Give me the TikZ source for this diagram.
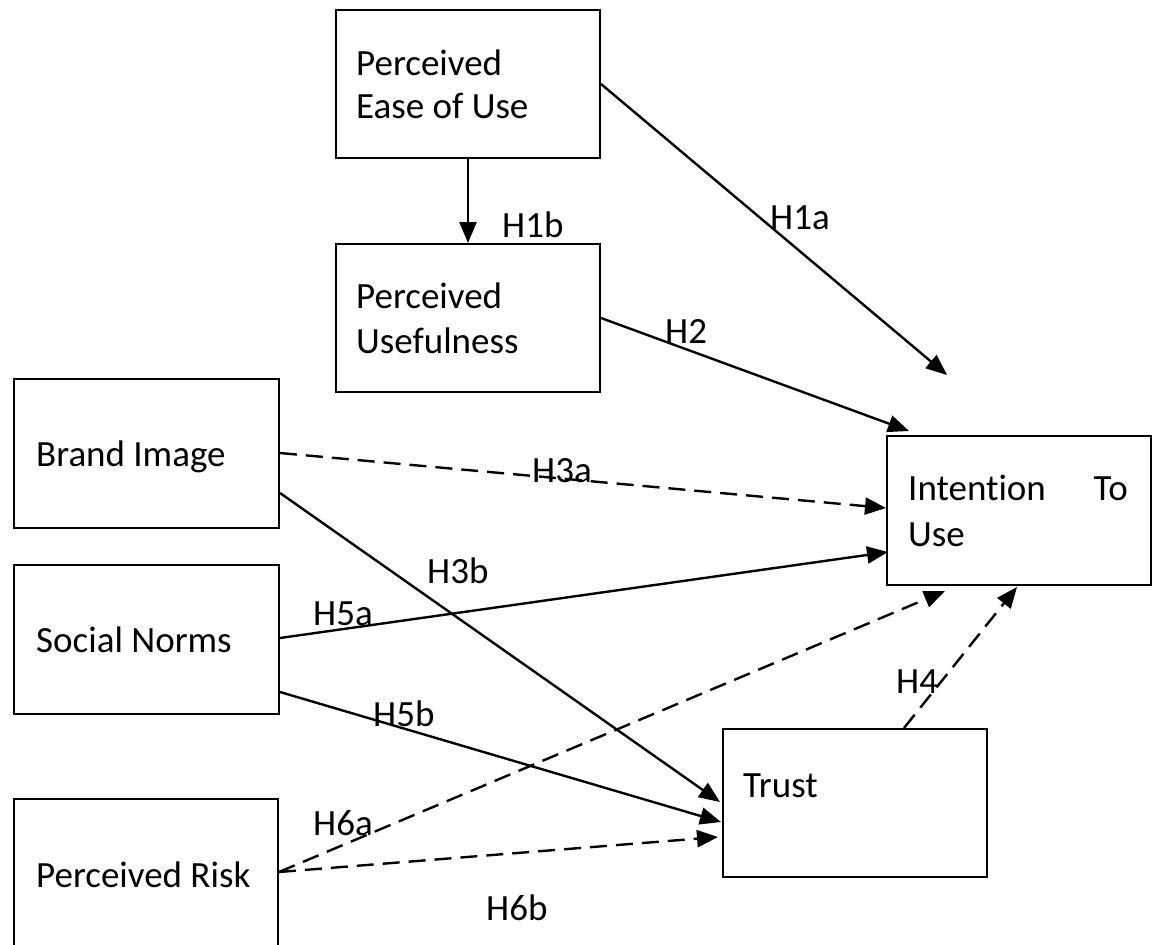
\documentclass[tikz,border=0pt]{standalone}
\usepackage{fontspec}
\setmainfont{Carlito}[Ligatures=NoCommon]
\usetikzlibrary{arrows.meta,calc}
\tikzset{
  box/.style={draw=black, line width=2pt, fill=white, inner sep=0pt, anchor=north west},
  txt/.style={anchor=base west, inner sep=0pt, font=\fontsize{37pt}{44pt}\selectfont},
  lbl/.style={anchor=base west, inner sep=0pt, font=\fontsize{37pt}{44pt}\selectfont},
  conn/.style={line width=2.4pt, -{Triangle[length=21pt,width=17pt]}},
  dashconn/.style={conn, dash pattern=on 17pt off 9pt}
}
\begin{document}
\begin{tikzpicture}[x=1pt,y=-1pt]
\clip (0,0) rectangle (1157,945);
\useasboundingbox (0,0) rectangle (1157,945);
% boxes
\node[box, minimum width=264pt, minimum height=148pt] (peou) at (335,9) {};
\node[box, minimum width=264pt, minimum height=148pt] (pu) at (335,243) {};
\node[box, minimum width=265pt, minimum height=149pt] (bi) at (13,378) {};
\node[box, minimum width=265pt, minimum height=149pt] (sn) at (13,564) {};
\node[box, minimum width=264pt, minimum height=149pt] (pr) at (13,798) {};
\node[box, minimum width=264pt, minimum height=149pt] (itu) at (886,435) {};
\node[box, minimum width=264pt, minimum height=148pt] (tr) at (722,728) {};
% box texts
\node[txt] (peou1) at (356,75) {Perceived};
\node[txt] (peou2) at (356,118) {Ease of Use};
\node[txt] (pu1) at (356,308) {Perceived};
\node[txt] (pu2) at (356,353) {Usefulness};
\node[txt] (bit) at (36,466) {Brand Image};
\node[txt] (snt) at (36,652) {Social Norms};
\node[txt] (prt) at (36,887) {Perceived Risk};
\node[txt] (itu1) at (908,500) {Intention};
\node[txt, anchor=base east] (itu2) at (1128,500) {To};
\node[txt] (itu3) at (908,546) {Use};
\node[txt] (trt) at (743,797) {Trust};
% free arrow end
\coordinate (h1aend) at (947,375);
% connectors
\draw[conn] (peou.south) -- (pu.north);
\draw[conn] (peou.east) -- (h1aend);
\draw[conn] (pu.east) -- ($(itu.north west)+(23,-4)$);
\draw[dashconn] ($(bi.north east)+(0,75)$) -- ($(itu.north west)+(0,73)$);
\draw[conn] ($(bi.north east)+(0,115)$) -- ($(tr.north west)+(-2,74)$);
\draw[conn] ($(sn.north east)+(0,74)$) -- ($(itu.north west)+(2,117)$);
\draw[conn] ($(sn.north east)+(0,128)$) -- ($(tr.north west)+(-1,94)$);
\draw[dashconn] ($(pr.north east)+(0,74)$) -- ($(itu.south west)+(59,5)$);
\draw[dashconn] ($(pr.north east)+(0,74)$) -- ($(tr.north west)+(-4,109)$);
\draw[dashconn] ($(tr.north west)+(182,0)$) -- ($(itu.south west)+(131,1)$);
% labels
\node[lbl] (l1b) at (502,237) {H1b};
\node[lbl] (l1a) at (770,229) {H1a};
\node[lbl] (l2) at (665,343) {H2};
\node[lbl] (l3a) at (532,482) {H3a};
\node[lbl] (l3b) at (427,583) {H3b};
\node[lbl] (l5a) at (313,625) {H5a};
\node[lbl] (l5b) at (373,726) {H5b};
\node[lbl] (l6a) at (313,835) {H6a};
\node[lbl] (l6b) at (486,920) {H6b};
\node[lbl] (l4) at (896,693) {H4};
\end{tikzpicture}
\end{document}
